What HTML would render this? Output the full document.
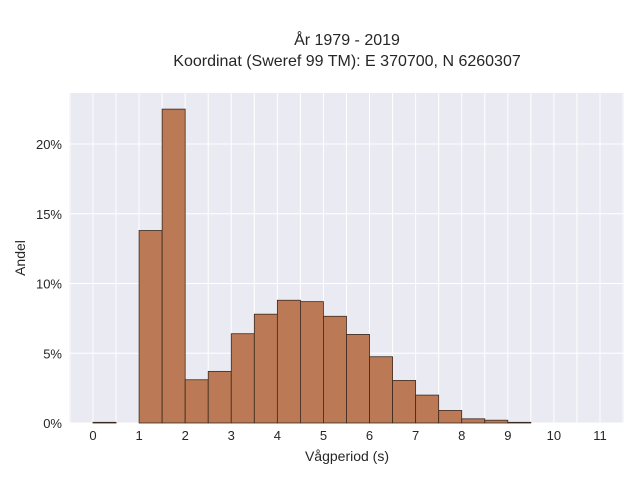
<!DOCTYPE html>
<html><head><meta charset="utf-8"><style>
body{margin:0;background:#fff;}
svg text{font-family:"Liberation Sans",sans-serif;fill:#262626;}
</style></head><body>
<svg id="chart" width="640" height="480" xmlns="http://www.w3.org/2000/svg">
<text x="347" y="45" text-anchor="middle" font-size="16">År 1979 - 2019</text>
<text x="347" y="66" text-anchor="middle" font-size="16">Koordinat (Sweref 99 TM): E 370700, N 6260307</text>
<rect x="69" y="93" width="555" height="330" fill="#eaeaf2"/>
<g id="grid"></g>
<g id="bars"></g>
<g id="xticks"></g>
<g id="yticks"></g>
<text x="347" y="461" text-anchor="middle" font-size="14">Vågperiod (s)</text>
<text transform="translate(25,258) rotate(-90)" text-anchor="middle" font-size="14">Andel</text>
</svg>
<script>
const binStarts=[0,0.5,1,1.5,2,2.5,3,3.5,4,4.5,5,5.5,6,6.5,7,7.5,8,8.5,9];
const shares=[0.05,0,13.8,22.5,3.1,3.7,6.4,7.8,8.8,8.7,7.65,6.35,4.75,3.05,2.0,0.9,0.3,0.2,0.05];
const xTickLabels=[0,1,2,3,4,5,6,7,8,9,10,11];
const yTickLabels=[0,5,10,15,20];
const binWidth=0.5;
const NS="http://www.w3.org/2000/svg";
function xs(v){return 93+v*46.09;}
function ys(v){return 423-v*13.95;}
const grid=document.getElementById('grid');
for(let g=-0.5;g<=11.5;g+=0.5){
  const l=document.createElementNS(NS,'line');
  l.setAttribute('x1',xs(g));l.setAttribute('x2',xs(g));l.setAttribute('y1',93);l.setAttribute('y2',423);
  l.setAttribute('stroke','#fff');l.setAttribute('stroke-width','1');
  
  
  grid.appendChild(l);
}
yTickLabels.forEach(v=>{
  const l=document.createElementNS(NS,'line');
  l.setAttribute('x1',69);l.setAttribute('x2',624);l.setAttribute('y1',ys(v));l.setAttribute('y2',ys(v));
  l.setAttribute('stroke','#fff');l.setAttribute('stroke-width','1');
  
  
  grid.appendChild(l);
  const t=document.createElementNS(NS,'text');
  t.setAttribute('x',62);t.setAttribute('y',ys(v)+5);t.setAttribute('text-anchor','end');t.setAttribute('font-size','13');
  t.textContent=v+'%';
  
  
  document.getElementById('yticks').appendChild(t);
});
xTickLabels.forEach(v=>{
  const t=document.createElementNS(NS,'text');
  t.setAttribute('x',xs(v));t.setAttribute('y',440);t.setAttribute('text-anchor','middle');t.setAttribute('font-size','13');
  t.textContent=v;
  
  
  document.getElementById('xticks').appendChild(t);
});
const bars=document.getElementById('bars');
binStarts.forEach((b,i)=>{
  if(shares[i]<=0)return;
  const r=document.createElementNS(NS,'rect');
  r.setAttribute('x',xs(b));r.setAttribute('width',xs(b+binWidth)-xs(b));
  r.setAttribute('y',ys(shares[i]));r.setAttribute('height',ys(0)-ys(shares[i]));
  r.setAttribute('fill','#bb7a55');r.setAttribute('stroke','#3a2a20');r.setAttribute('stroke-width','0.8');
  
  
  bars.appendChild(r);
});
</script>
</body></html>
